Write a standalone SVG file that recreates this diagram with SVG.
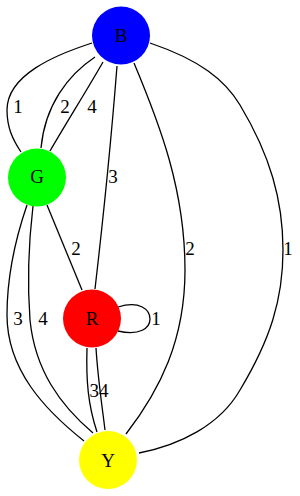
<svg xmlns="http://www.w3.org/2000/svg" width="300" height="496" viewBox="0 0 300 496">
<style>
.e{fill:none;stroke:#000;stroke-width:1.3}
text{font-family:"Liberation Serif","Times New Roman",serif;font-size:19px;text-anchor:middle;fill:#000}
</style>
<rect width="300" height="496" fill="#fff"/>
<g id="edges">
<path class="e" d="M92,43 C55,55 7,75 7,110 C7,128 13,140 21,152"/>
<path class="e" d="M95,57 C68,75 45,105 41,148"/>
<path class="e" d="M103,62 C90,85 65,125 50,151"/>
<path class="e" d="M117,66 C112,130 103,220 95,289"/>
<path class="e" d="M134,63 C160,125 185,190 185,270 C185,340 160,390 126,434"/>
<path class="e" d="M150,43 C200,60 225,80 240,105 C270,155 283,200 283,250 C283,300 270,340 240,390 C220,425 180,445 139,453"/>
<path class="e" d="M47,205 L82,290"/>
<path class="e" d="M27,205 C15,240 7,275 7,315 C7,370 45,410 84,441"/>
<path class="e" d="M33,206 C29,240 27,280 30,320 C35,370 60,405 93,433"/>
<path class="e" d="M118,307 C140,300 150,310 150,319 C150,328 140,336 118,331"/>
<path class="e" d="M87,348 C86,380 88,405 97,432"/>
<path class="e" d="M96,348 C98,380 102,405 105,430"/>
<text x="18" y="113">1</text>
<text x="65" y="113">2</text>
<text x="92" y="113">4</text>
<text x="113" y="183">3</text>
<text x="190" y="255">2</text>
<text x="288" y="255">1</text>
<text x="76" y="255">2</text>
<text x="18" y="325">3</text>
<text x="43" y="325">4</text>
<text x="156" y="325">1</text>
<text x="99" y="397">34</text>
</g>
<g id="B"><circle cx="121" cy="35.5" r="29" fill="#0000ff"/><text x="121" y="42">B</text></g>
<g id="G"><circle cx="37" cy="177.5" r="29" fill="#00ff00"/><text x="37" y="183">G</text></g>
<g id="R"><circle cx="92" cy="318.5" r="29" fill="#ff0000"/><text x="92" y="325">R</text></g>
<g id="Y"><circle cx="108" cy="460" r="29" fill="#ffff00"/><text x="108" y="467">Y</text></g>
</svg>
